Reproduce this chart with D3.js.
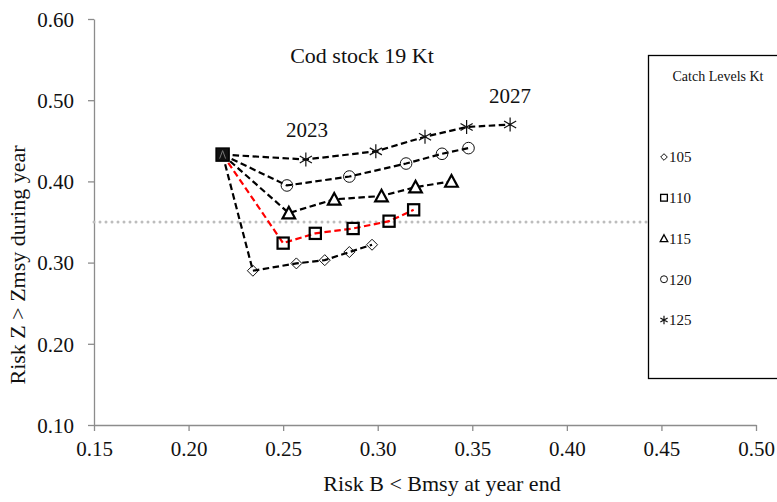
<!DOCTYPE html>
<html>
<head>
<meta charset="utf-8">
<script src="https://cdn.jsdelivr.net/npm/d3@7"></script>
<style>
  html, body { margin: 0; padding: 0; background: #fff; }
  svg { display: block; font-family: "Liberation Serif", "Times New Roman", serif; }
  svg text { font-family: "Liberation Serif", "Times New Roman", serif; }
</style>
</head>
<body>
<svg id="chart" width="777" height="502"></svg>
<script>
// Catch levels (Kt) and the risk trajectories 2023–2027 for each level
const catchLevels = ["105", "110", "115", "120", "125"];
const startPoint = [0.218, 0.433];
const riskB105 = [0.234, 0.257, 0.272, 0.285, 0.297];
const riskZ105 = [0.290, 0.299, 0.303, 0.313, 0.322];
const riskB110 = [0.250, 0.267, 0.287, 0.306, 0.319];
const riskZ110 = [0.324, 0.336, 0.342, 0.351, 0.365];
const riskB115 = [0.253, 0.277, 0.302, 0.320, 0.339];
const riskZ115 = [0.361, 0.378, 0.382, 0.393, 0.400];
const riskB120 = [0.252, 0.285, 0.315, 0.334, 0.348];
const riskZ120 = [0.395, 0.406, 0.422, 0.434, 0.441];
const riskB125 = [0.262, 0.299, 0.325, 0.347, 0.370];
const riskZ125 = [0.427, 0.437, 0.455, 0.467, 0.470];
const referenceRisk = 0.35;
const xTicks = [0.15, 0.20, 0.25, 0.30, 0.35, 0.40, 0.45, 0.50];
const yTicks = [0.10, 0.20, 0.30, 0.40, 0.50, 0.60];

const seriesB = [riskB105, riskB110, riskB115, riskB120, riskB125];
const seriesZ = [riskZ105, riskZ110, riskZ115, riskZ120, riskZ125];
const markerKinds = ["diamond", "square", "triangle", "circle", "asterisk"];
const lineColours = ["#000", "#ff0000", "#000", "#000", "#000"];

const svg = d3.select("#chart");
const x = d3.scaleLinear().domain([0.15, 0.50]).range([94, 756]);
const y = d3.scaleLinear().domain([0.10, 0.60]).range([425, 19]);
const axisGrey = "#8c8c8c";

// Axes
const xAxis = svg.append("g").attr("transform", "translate(0,425)")
  .call(d3.axisBottom(x).tickValues(xTicks).tickFormat(d3.format(".2f")).tickSize(6).tickSizeOuter(0));
const yAxis = svg.append("g").attr("transform", "translate(94,0)")
  .call(d3.axisLeft(y).tickValues(yTicks).tickFormat(d3.format(".2f")).tickSize(6).tickSizeOuter(0));
[xAxis, yAxis].forEach(g => {
  g.attr("font-size", 21).attr("font-family", null);
  g.select(".domain").attr("stroke", axisGrey).attr("stroke-width", 1.3);
  g.selectAll(".tick line").attr("stroke", axisGrey).attr("stroke-width", 1.3);
  g.selectAll(".tick text").attr("fill", "#111");
});
xAxis.selectAll(".tick text").attr("y", 31).attr("dy", 0);
yAxis.selectAll(".tick text").attr("x", -20).attr("dy", "0.35em");

// Reference level at 0.35
svg.append("line")
  .attr("x1", x(0.15)).attr("x2", x(0.50))
  .attr("y1", y(referenceRisk)).attr("y2", y(referenceRisk))
  .attr("stroke", "#bdbdbd").attr("stroke-width", 3)
  .attr("stroke-dasharray", "0,6").attr("stroke-linecap", "round");

// Trajectory lines
const line = d3.line().x(d => x(d[0])).y(d => y(d[1]));
seriesB.forEach((bs, i) => {
  const pts = [startPoint].concat(bs.map((b, j) => [b, seriesZ[i][j]]));
  svg.append("path").datum(pts)
    .attr("d", line)
    .attr("fill", "none")
    .attr("stroke", lineColours[i])
    .attr("stroke-width", 2.2)
    .attr("stroke-dasharray", "6.5,3.5");
});

// Marker shapes
function drawMarker(g, kind, cx, cy, scale) {
  const s = scale || 1;
  if (kind === "diamond") {
    const r = 5.5 * s;
    g.append("path").attr("d", `M${cx},${cy - r}L${cx + r},${cy}L${cx},${cy + r}L${cx - r},${cy}Z`)
      .attr("fill", "none").attr("stroke", "#111").attr("stroke-width", 1);
  } else if (kind === "square") {
    const h = 5.6 * s;
    g.append("rect").attr("x", cx - h).attr("y", cy - h).attr("width", 2 * h).attr("height", 2 * h)
      .attr("fill", "none").attr("stroke", "#000").attr("stroke-width", Math.max(1, 2.2 * s));
  } else if (kind === "triangle") {
    const h = 6.3 * s;
    g.append("path").attr("d", `M${cx},${cy - h}L${cx + h},${cy + h * 0.85}L${cx - h},${cy + h * 0.85}Z`)
      .attr("fill", "#fff").attr("stroke", "#000").attr("stroke-width", Math.max(1, 2.2 * s)).attr("stroke-linejoin", "miter");
  } else if (kind === "circle") {
    g.append("circle").attr("cx", cx).attr("cy", cy).attr("r", 5.8 * s)
      .attr("fill", "none").attr("stroke", "#111").attr("stroke-width", 1);
  } else if (kind === "asterisk") {
    const r = 7 * s;
    const a = r * Math.cos(Math.PI / 6), b = r * Math.sin(Math.PI / 6);
    g.append("path")
      .attr("d", `M${cx},${cy - r}L${cx},${cy + r}M${cx - a},${cy - b}L${cx + a},${cy + b}M${cx - a},${cy + b}L${cx + a},${cy - b}`)
      .attr("stroke", "#111").attr("stroke-width", 1.2).attr("fill", "none");
  }
}

// Markers along each trajectory
const marks = svg.append("g");
seriesB.forEach((bs, i) => {
  bs.forEach((b, j) => drawMarker(marks, markerKinds[i], x(b), y(seriesZ[i][j])));
});

// Common starting point (all catch levels overlap here)
const sx = x(startPoint[0]), sy = y(startPoint[1]);
svg.append("rect")
  .attr("x", sx - 6.5).attr("y", sy - 6.5)
  .attr("width", 13).attr("height", 13)
  .attr("fill", "#111").attr("stroke", "#000").attr("stroke-width", 1.5);
svg.append("path")
  .attr("d", `M${sx - 3},${sy + 4}L${sx},${sy - 4}L${sx + 3},${sy + 4}`)
  .attr("stroke", "#777").attr("stroke-width", 1).attr("fill", "none");

// Annotations
svg.append("text").attr("x", 362).attr("y", 63).attr("text-anchor", "middle")
  .attr("font-size", 22).attr("fill", "#111").text("Cod stock 19 Kt");
svg.append("text").attr("x", 307).attr("y", 137).attr("text-anchor", "middle")
  .attr("font-size", 21).attr("fill", "#111").text("2023");
svg.append("text").attr("x", 510).attr("y", 103).attr("text-anchor", "middle")
  .attr("font-size", 21).attr("fill", "#111").text("2027");

// Axis titles
svg.append("text").attr("x", 442).attr("y", 491).attr("text-anchor", "middle")
  .attr("font-size", 22).attr("fill", "#111").text("Risk B < Bmsy at year end");
svg.append("text").attr("transform", "translate(25,265) rotate(-90)").attr("text-anchor", "middle")
  .attr("font-size", 22).attr("fill", "#111").text("Risk Z > Zmsy during year");

// Legend
const legend = svg.append("g");
legend.append("rect").attr("x", 648.5).attr("y", 55.5).attr("width", 140).attr("height", 323)
  .attr("fill", "#fff").attr("stroke", "#000").attr("stroke-width", 1.3);
legend.append("text").attr("x", 718).attr("y", 81).attr("text-anchor", "middle")
  .attr("font-size", 14).attr("fill", "#111").text("Catch Levels Kt");
const legendY = d3.scalePoint().domain(catchLevels).range([157, 320]);
catchLevels.forEach((c, i) => {
  const cy = legendY(c);
  drawMarker(legend, markerKinds[i], 664, cy, 0.6);
  legend.append("text").attr("x", 669).attr("y", cy).attr("dy", "0.35em")
    .attr("font-size", 15).attr("fill", "#111").text(c);
});
</script>
</body>
</html>
